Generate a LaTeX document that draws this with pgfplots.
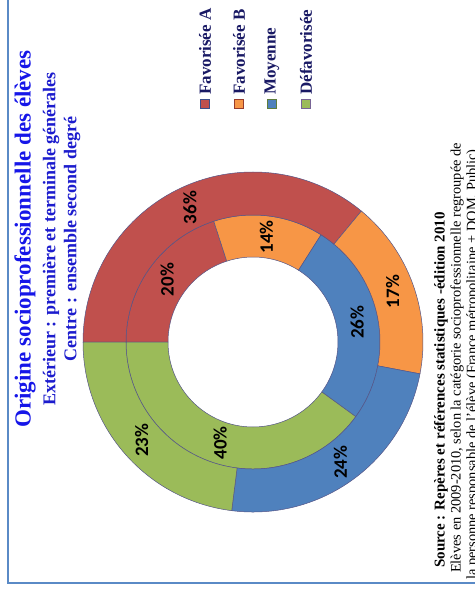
\documentclass[border=0pt]{standalone}
\usepackage{pgfplots}
\pgfplotsset{compat=1.18}
\usepackage{pgfplotstable}
\usepackage{fontspec}
\setmainfont{Liberation Serif}
\newfontfamily\lblfont{Carlito}

\definecolor{cFavA}{RGB}{192,80,77}
\definecolor{cFavB}{RGB}{247,150,70}
\definecolor{cMoy}{RGB}{79,129,189}
\definecolor{cDef}{RGB}{155,187,89}
\definecolor{titleblue}{RGB}{22,22,232}
\definecolor{subblue}{RGB}{28,28,205}
\definecolor{legnavy}{RGB}{25,25,100}
\definecolor{frameblue}{RGB}{90,138,198}
\definecolor{sliceline}{RGB}{85,85,135}
\definecolor{edgeA}{RGB}{60,80,140}
\definecolor{edgeB}{RGB}{150,60,45}
\definecolor{edgeM}{RGB}{95,125,60}
\definecolor{edgeD}{RGB}{120,100,150}

% outer ring: premiere et terminale generales
\pgfplotstableread{
cat value col
FavA 36 cFavA
FavB 17 cFavB
Moy 24 cMoy
Def 23 cDef
}\outerdata
% inner ring: ensemble second degre
\pgfplotstableread{
cat value col
FavA 20 cFavA
FavB 14 cFavB
Moy 26 cMoy
Def 40 cDef
}\innerdata

\def\cx{253}\def\cy{342}

\newcommand\drawring[3]{% table, r_in, r_out
  \def\startang{180}%
  \pgfplotstablegetrowsof{#1}\pgfmathtruncatemacro\lastrow{\pgfplotsretval-1}%
  \pgfplotsforeachungrouped \i in {0,...,\lastrow}{%
    \pgfplotstablegetelem{\i}{value}\of{#1}\let\val\pgfplotsretval
    \pgfplotstablegetelem{\i}{col}\of{#1}\let\col\pgfplotsretval
    \pgfmathsetmacro\endang{\startang-3.6*\val}%
    \pgfmathsetmacro\midang{(\startang+\endang)/2}%
    \pgfmathsetmacro\ax{\cx+#3*cos(\startang)}%
    \pgfmathsetmacro\ay{\cy-#3*sin(\startang)}%
    \pgfmathsetmacro\bx{\cx+#2*cos(\endang)}%
    \pgfmathsetmacro\by{\cy-#2*sin(\endang)}%
    \pgfmathsetmacro\lx{\cx+(#2+#3)/2*cos(\midang)}%
    \pgfmathsetmacro\ly{\cy-(#2+#3)/2*sin(\midang)}%
    \edef\temp{\noexpand\filldraw[fill=\col,draw=sliceline,line width=0.5pt] (axis cs:\ax,\ay) arc[start angle=\startang,end angle=\endang,radius=#3pt] -- (axis cs:\bx,\by) arc[start angle=\endang,end angle=\startang,radius=#2pt] -- cycle;}%
    \temp
    \edef\temp{\noexpand\node[rotate=90,inner sep=0pt,font=\noexpand\lblfont\noexpand\bfseries\noexpand\fontsize{19}{21}\noexpand\selectfont] at (axis cs:\lx,\ly) {\val\noexpand\%};}%
    \temp
    \let\startang\endang
  }%
}

\begin{document}
\begin{tikzpicture}
\path[use as bounding box] (0,0) rectangle (474pt,593pt);
\begin{axis}[at={(0,0)},anchor=south west,scale only axis,
  width=474pt,height=593pt,xmin=0,xmax=474,ymin=0,ymax=593,
  y dir=reverse,hide axis,clip=false]
  \drawring{\innerdata}{85}{127}
  \drawring{\outerdata}{127}{170}
  % titles
  \node[rotate=90,inner sep=0pt,text=titleblue,font=\bfseries\fontsize{23}{26}\selectfont] at (axis cs:25,239) {Origine socioprofessionnelle des élèves};
  \node[rotate=90,inner sep=0pt,text=subblue,font=\bfseries\fontsize{18}{20}\selectfont] at (axis cs:51,239) {Extérieur : première et terminale générales};
  \node[rotate=90,inner sep=0pt,text=subblue,font=\bfseries\fontsize{18}{20}\selectfont] at (axis cs:72,239) {Centre : ensemble second degré};
  % legend
  \filldraw[fill=cFavA,draw=edgeA,line width=0.8pt] (axis cs:200.5,99) rectangle (axis cs:209.5,108);
  \filldraw[fill=cFavB,draw=edgeB,line width=0.8pt] (axis cs:234.5,99) rectangle (axis cs:243.5,108);
  \filldraw[fill=cMoy,draw=edgeM,line width=0.8pt] (axis cs:267.5,99) rectangle (axis cs:276.5,108);
  \filldraw[fill=cDef,draw=edgeD,line width=0.8pt] (axis cs:301.5,99) rectangle (axis cs:310.5,108);
  \begin{scope}[every node/.style={rotate=90,anchor=west,inner sep=0pt,text=legnavy,font=\bfseries\fontsize{17}{19}\selectfont}]
  \node at (axis cs:205,95) {Favorisée A};
  \node at (axis cs:239,95) {Favorisée B};
  \node at (axis cs:272,95) {Moyenne};
  \node at (axis cs:306,95) {Défavorisée};
  \end{scope}
  % source
  \node[rotate=90,anchor=west,inner sep=0pt,font=\bfseries\fontsize{15}{17}\selectfont] at (axis cs:441,568) {Source : Repères et références statistiques -édition 2010};
  \node[rotate=90,anchor=west,inner sep=0pt,font=\fontsize{14.4}{16}\selectfont] at (axis cs:457,573) {Elèves en 2009-2010, selon la catégorie socioprofessionnelle regroupée de};
  \node[rotate=90,anchor=west,inner sep=0pt,font=\fontsize{14.4}{16}\selectfont] at (axis cs:473,580) {la personne responsable de l'élève (France métropolitaine + DOM, Public)};
  % frame
  \draw[frameblue,line width=2.5pt] (axis cs:8,-5) -- (axis cs:8,583) -- (axis cs:480,583);
\end{axis}
\end{tikzpicture}
\end{document}
